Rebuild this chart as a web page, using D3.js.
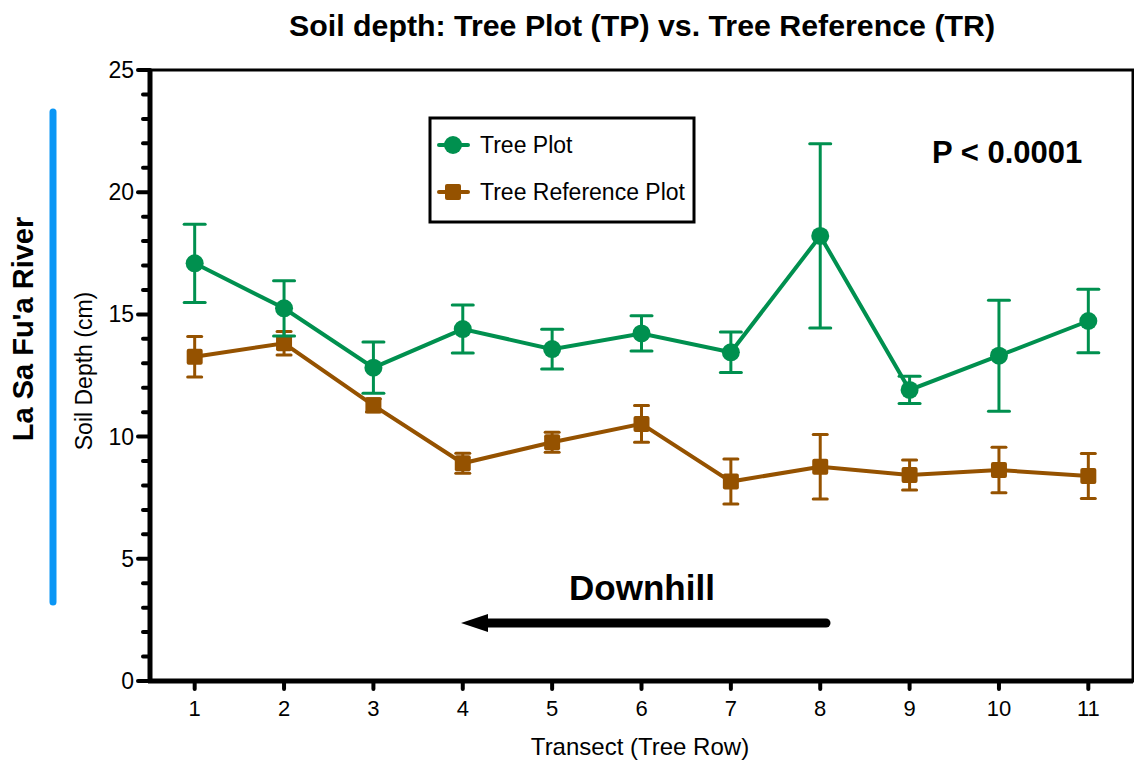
<!DOCTYPE html>
<html>
<head>
<meta charset="utf-8">
<script src="https://cdn.jsdelivr.net/npm/d3@7"></script>
<style>
  body { margin: 0; background: #fff; }
  svg { font-family: Arial, "Liberation Sans", sans-serif; }
</style>
</head>
<body>
<svg id="chart" width="1134" height="764"></svg>
<script>
// data (mean and error half-width)
const transects = [1, 2, 3, 4, 5, 6, 7, 8, 9, 10, 11];
const treePlot = [17.09, 15.25, 12.82, 14.40, 13.58, 14.22, 13.45, 18.21, 11.91, 13.31, 14.73];
const treePlotErr = [1.6, 1.13, 1.05, 0.98, 0.81, 0.72, 0.83, 3.77, 0.56, 2.27, 1.3];
const treeRef = [13.27, 13.82, 11.28, 8.91, 9.77, 10.52, 8.16, 8.77, 8.43, 8.63, 8.39];
const treeRefErr = [0.83, 0.48, 0.27, 0.41, 0.41, 0.75, 0.92, 1.32, 0.61, 0.93, 0.92];
const yTicks = [0, 5, 10, 15, 20, 25];

const green = "#00904f";
const brown = "#955200";

const svg = d3.select("#chart");
const plotLeft = 150, plotRight = 1133, plotTop = 70, plotBottom = 681;

const x = d3.scaleLinear().domain([0.5, 11.5]).range([plotLeft, plotRight]);
const y = d3.scaleLinear().domain([0, 25]).range([plotBottom, plotTop]);

// title
svg.append("text")
  .attr("x", 642).attr("y", 36)
  .attr("text-anchor", "middle")
  .style("font-size", "30px").style("font-weight", "bold")
  .attr("textLength", 706).attr("lengthAdjust", "spacingAndGlyphs")
  .text("Soil depth: Tree Plot (TP) vs. Tree Reference (TR)");

// river marker on the left
svg.append("line")
  .attr("x1", 53).attr("x2", 53).attr("y1", 112).attr("y2", 602)
  .style("stroke", "#0a96f5").style("stroke-width", 7).style("stroke-linecap", "round");
svg.append("text")
  .attr("transform", "translate(33,329) rotate(-90)")
  .attr("text-anchor", "middle")
  .style("font-size", "29px").style("font-weight", "bold")
  .text("La Sa Fu'a River");

// y axis minor ticks
const minor = d3.range(0, 26).filter(d => d % 5 !== 0);
svg.selectAll(".minor").data(minor).join("line")
  .attr("x1", plotLeft - 7).attr("x2", plotLeft)
  .attr("y1", d => y(d)).attr("y2", d => y(d))
  .style("stroke", "#000").style("stroke-width", 4).style("stroke-linecap", "round");

// y axis major ticks + labels
svg.selectAll(".major").data(yTicks).join("line")
  .attr("x1", plotLeft - 12).attr("x2", plotLeft)
  .attr("y1", d => y(d)).attr("y2", d => y(d))
  .style("stroke", "#000").style("stroke-width", 4).style("stroke-linecap", "round");
svg.selectAll(".ylab").data(yTicks).join("text")
  .attr("x", plotLeft - 16).attr("y", d => y(d) + 8)
  .attr("text-anchor", "end")
  .style("font-size", "23px")
  .text(d => d);

// x ticks + labels
svg.selectAll(".xtick").data(transects).join("line")
  .attr("x1", d => x(d)).attr("x2", d => x(d))
  .attr("y1", plotBottom).attr("y2", plotBottom + 8)
  .style("stroke", "#000").style("stroke-width", 4).style("stroke-linecap", "round");
svg.selectAll(".xlab").data(transects).join("text")
  .attr("x", d => x(d)).attr("y", 716)
  .attr("text-anchor", "middle")
  .style("font-size", "22px")
  .text(d => d);

// frame
svg.append("rect")
  .attr("x", plotLeft).attr("y", plotTop)
  .attr("width", plotRight - plotLeft).attr("height", plotBottom - plotTop)
  .style("fill", "none").style("stroke", "#000").style("stroke-width", 3);
svg.append("line")
  .attr("x1", plotLeft).attr("x2", plotLeft).attr("y1", plotTop).attr("y2", plotBottom)
  .style("stroke", "#000").style("stroke-width", 5);
svg.append("line")
  .attr("x1", plotLeft - 2).attr("x2", plotRight).attr("y1", plotBottom).attr("y2", plotBottom)
  .style("stroke", "#000").style("stroke-width", 5);

// axis labels
svg.append("text")
  .attr("transform", "translate(92,371) rotate(-90)")
  .attr("text-anchor", "middle")
  .style("font-size", "23px")
  .text("Soil Depth (cm)");
svg.append("text")
  .attr("x", 640).attr("y", 755)
  .attr("text-anchor", "middle")
  .style("font-size", "24px")
  .text("Transect (Tree Row)");

// error bars
function errorBars(vals, errs, color, capW) {
  const g = svg.append("g").style("stroke", color).style("stroke-width", 3);
  transects.forEach((t, i) => {
    const lo = y(vals[i] - errs[i]), hi = y(vals[i] + errs[i]);
    g.append("line").attr("x1", x(t)).attr("x2", x(t)).attr("y1", lo).attr("y2", hi);
    g.append("line").attr("x1", x(t) - capW / 2).attr("x2", x(t) + capW / 2).attr("y1", lo).attr("y2", lo)
      .style("stroke-linecap", "round");
    g.append("line").attr("x1", x(t) - capW / 2).attr("x2", x(t) + capW / 2).attr("y1", hi).attr("y2", hi)
      .style("stroke-linecap", "round");
  });
}

const line = d3.line().x((d, i) => x(transects[i])).y(d => y(d));

errorBars(treeRef, treeRefErr, brown, 14);
svg.append("path").datum(treeRef).attr("d", line)
  .style("fill", "none").style("stroke", brown).style("stroke-width", 4);
svg.selectAll(".sq").data(treeRef).join("rect")
  .attr("x", (d, i) => x(transects[i]) - 8).attr("y", d => y(d) - 8)
  .attr("width", 16).attr("height", 16).attr("rx", 2)
  .style("fill", brown);

errorBars(treePlot, treePlotErr, green, 21);
svg.append("path").datum(treePlot).attr("d", line)
  .style("fill", "none").style("stroke", green).style("stroke-width", 4);
svg.selectAll(".dot").data(treePlot).join("circle")
  .attr("cx", (d, i) => x(transects[i])).attr("cy", d => y(d))
  .attr("r", 9).style("fill", green);

// legend
const lg = svg.append("g");
lg.append("rect").attr("x", 430).attr("y", 118).attr("width", 264).attr("height", 104)
  .style("fill", "#fff").style("stroke", "#000").style("stroke-width", 3);
const legendItems = [
  { label: "Tree Plot", color: green, shape: "circle", yy: 145 },
  { label: "Tree Reference Plot", color: brown, shape: "square", yy: 192 }
];
legendItems.forEach(it => {
  lg.append("line").attr("x1", 439).attr("x2", 468).attr("y1", it.yy).attr("y2", it.yy)
    .style("stroke", it.color).style("stroke-width", 4).style("stroke-linecap", "round");
  if (it.shape === "circle") {
    lg.append("circle").attr("cx", 453).attr("cy", it.yy).attr("r", 9).style("fill", it.color);
  } else {
    lg.append("rect").attr("x", 445).attr("y", it.yy - 8).attr("width", 16).attr("height", 16)
      .attr("rx", 2).style("fill", it.color);
  }
  lg.append("text").attr("x", 480).attr("y", it.yy + 8)
    .style("font-size", "23px").text(it.label);
});

// p-value
svg.append("text")
  .attr("x", 932).attr("y", 163)
  .style("font-size", "31px").style("font-weight", "bold")
  .text("P < 0.0001");

// downhill arrow
svg.append("text")
  .attr("x", 642).attr("y", 600)
  .attr("text-anchor", "middle")
  .style("font-size", "35px").style("font-weight", "bold")
  .text("Downhill");
svg.append("line")
  .attr("x1", 826).attr("x2", 478).attr("y1", 623).attr("y2", 623)
  .style("stroke", "#000").style("stroke-width", 9).style("stroke-linecap", "round");
svg.append("path")
  .attr("d", "M461,623 L488,614 L488,632 Z")
  .style("fill", "#000");
</script>
</body>
</html>
